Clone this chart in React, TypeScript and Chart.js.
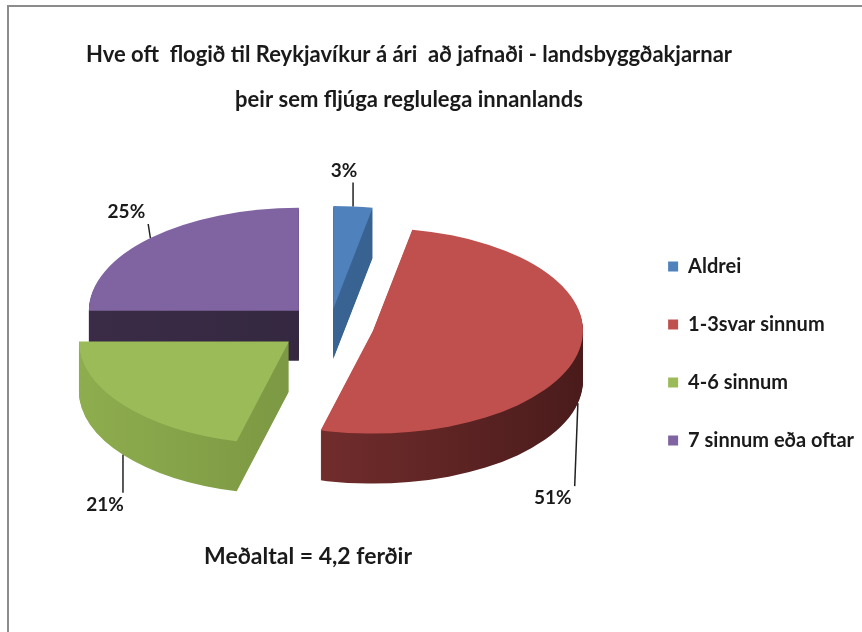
import { useEffect, useRef } from 'react';
import { Chart, registerables } from 'chart.js';

Chart.register(...registerables);

// ---- data ----
const categories = ['Aldrei', '1-3svar sinnum', '4-6 sinnum', '7 sinnum eða oftar'];
const shares = [3, 51, 21, 25];
const shareLabels = ['3%', '51%', '21%', '25%'];
const titleLines = [
  'Hve oft  flogið til Reykjavíkur á ári  að jafnaði - landsbyggðakjarnar',
  'þeir sem fljúga reglulega innanlands',
];
const footnote = 'Meðaltal = 4,2 ferðir';

// ---- styles / layout ----
const topColors = ['#4F81BD', '#C0504D', '#9BBB59', '#8064A2'];
const sideColors = [
  ['#3F6D9F', '#335A86'],
  ['#8A3737', '#4A1B1B'],
  ['#8EAD4E', '#6A8438'],
  ['#3A2C47', '#2F2339'],
];
const explode = [35, 44, 52, 44];
const PIE = { cx: 330, cy: 326, r: 210, tilt: 0.49, depth: 50 };
const labelNudges = [
  [-9, -36],
  [-25, 95],
  [-18, 50],
  [-24, -26],
];
const FONT = 'Lato';
const TEXT = '#1a1a1a';

const pie3d = {
  id: 'pie3d',
  beforeDraw(chart: any) {
    const ctx = chart.ctx;
    ctx.save();
    ctx.fillStyle = '#ffffff';
    ctx.fillRect(0, 0, chart.width, chart.height);
    ctx.fillStyle = '#8c8c8c';
    ctx.fillRect(7, 5, chart.width, 2);
    ctx.fillRect(7, 5, 2, chart.height);
    ctx.restore();
  },
  beforeDatasetsDraw(chart: any) {
    const ctx = chart.ctx;
    const arcs = chart.getDatasetMeta(0).data;
    if (!arcs.length) return false;
    const ox = arcs[0].x;
    const oy = arcs[0].y;
    const place = (i: number, dy: number) => {
      const a = arcs[i];
      const mid = (a.startAngle + a.endAngle) / 2;
      ctx.translate(PIE.cx, PIE.cy + dy);
      ctx.scale(1, PIE.tilt);
      ctx.translate(-ox + Math.cos(mid) * explode[i], -oy + Math.sin(mid) * explode[i]);
    };
    const drawArc = (i: number, color: any) => {
      const a = arcs[i];
      const proxy = Object.create(a);
      proxy.options = { ...a.options, backgroundColor: color, borderWidth: 0, offset: 0 };
      a.draw.call(proxy, ctx);
    };
    // side walls
    for (let d = PIE.depth; d >= 1; d--) {
      arcs.forEach((_: any, i: number) => {
        ctx.save();
        place(i, d);
        const g = ctx.createLinearGradient(ox - PIE.r, 0, ox + PIE.r, 0);
        g.addColorStop(0, sideColors[i][0]);
        g.addColorStop(1, sideColors[i][1]);
        drawArc(i, g);
        ctx.restore();
      });
    }
    // top faces
    arcs.forEach((_: any, i: number) => {
      ctx.save();
      place(i, 0);
      drawArc(i, topColors[i]);
      ctx.restore();
    });
    return false;
  },
  afterDraw(chart: any) {
    const ctx = chart.ctx;
    const arcs = chart.getDatasetMeta(0).data;
    ctx.save();
    // title
    ctx.fillStyle = TEXT;
    ctx.textAlign = 'center';
    ctx.textBaseline = 'middle';
    ctx.font = `bold 22px ${FONT}`;
    ctx.fillText(titleLines[0], 409, 55);
    ctx.fillText(titleLines[1], 409, 100);
    // footnote
    ctx.font = `bold 23px ${FONT}`;
    ctx.fillText(footnote, 308, 557);
    // data labels
    ctx.font = `bold 19px ${FONT}`;
    ctx.strokeStyle = '#222';
    ctx.lineWidth = 1.5;
    arcs.forEach((a: any, i: number) => {
      const mid = (a.startAngle + a.endAngle) / 2;
      const ex = Math.cos(mid) * (explode[i] + PIE.r);
      const ey = Math.sin(mid) * (explode[i] + PIE.r);
      const ax = PIE.cx + ex;
      const ay = PIE.cy + ey * PIE.tilt + (Math.sin(mid) > 0 ? PIE.depth : 0);
      const tx = ax + labelNudges[i][0];
      const ty = ay + labelNudges[i][1];
      const w = ctx.measureText(shareLabels[i]).width;
      const h = 18;
      const bx0 = tx - w / 2 - 3, bx1 = tx + w / 2 + 3;
      const by0 = ty - h / 2 - 3, by1 = ty + h / 2 + 3;
      const lx = Math.min(Math.max(ax, bx0), bx1);
      const ly = Math.min(Math.max(ay, by0), by1);
      ctx.beginPath();
      ctx.moveTo(ax, ay);
      ctx.lineTo(lx, ly);
      ctx.stroke();
      ctx.fillText(shareLabels[i], tx, ty);
    });
    ctx.restore();
  },
};

export default function App() {
  const ref = useRef<HTMLCanvasElement>(null);
  useEffect(() => {
    document.body.style.margin = '0';
    const chart = new Chart(ref.current as HTMLCanvasElement, {
      type: 'pie',
      data: {
        labels: categories,
        datasets: [
          {
            data: shares,
            backgroundColor: topColors,
            borderWidth: 0,
            radius: PIE.r,
          } as any,
        ],
      },
      options: {
        responsive: false,
        animation: false,
        devicePixelRatio: 1,
        events: [],
        layout: { padding: { top: 130, bottom: 55, right: -2, left: 0 } },
        plugins: {
          tooltip: { enabled: false },
          title: { display: false },
          legend: {
            position: 'right',
            align: 'center',
            labels: {
              boxWidth: 10,
              boxHeight: 10,
              padding: 38,
              color: TEXT,
              font: { family: FONT, size: 20, weight: 'bold' },
            },
          },
        },
      } as any,
      plugins: [pie3d],
    });
    return () => chart.destroy();
  }, []);
  return (
    <div style={{ width: 862, height: 632 }}>
      <canvas ref={ref} width={862} height={632} style={{ display: 'block' }} />
    </div>
  );
}
